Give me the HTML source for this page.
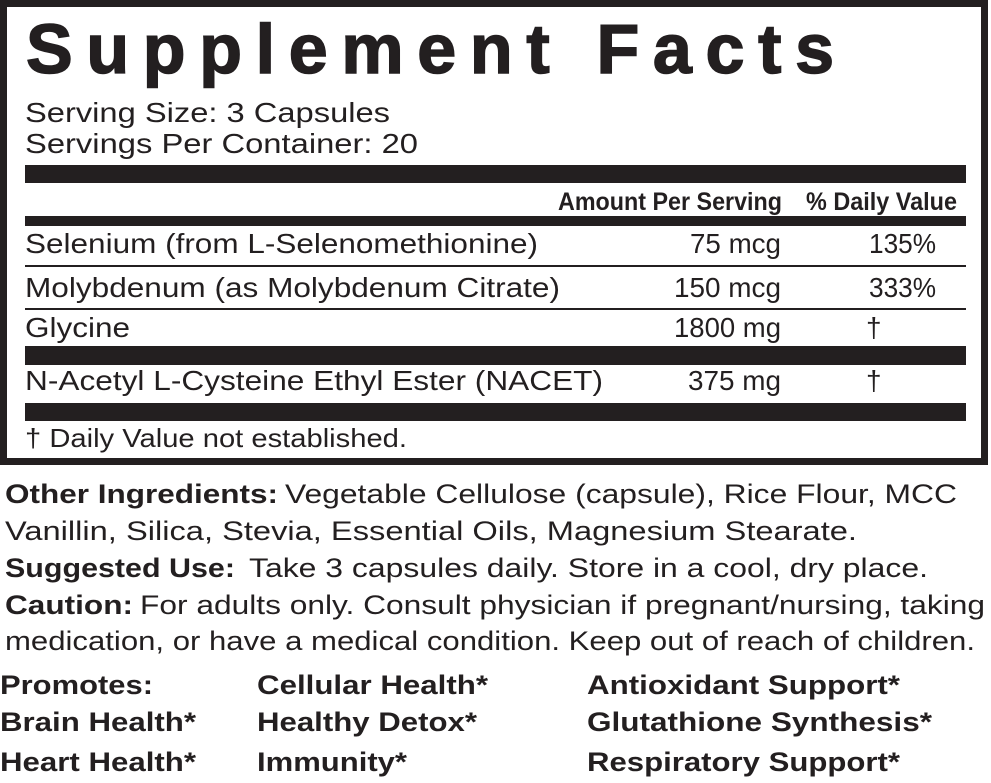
<!DOCTYPE html>
<html><head><meta charset="utf-8"><style>
html,body{margin:0;padding:0;background:#fff;width:991px;height:783px;overflow:hidden}
svg{display:block}
text{font-family:"Liberation Sans",Arial,sans-serif;fill:#231f20}
.b{font-weight:bold}
</style></head><body>
<svg width="991" height="783" viewBox="0 0 991 783" xmlns="http://www.w3.org/2000/svg">
<rect x="3.5" y="3.5" width="981" height="458" fill="none" stroke="#231f20" stroke-width="7"/>
<text class="b" x="26" y="73" font-size="70" textLength="808" lengthAdjust="spacing" stroke="#231f20" stroke-width="1.5">Supplement Facts</text>
<text x="25" y="122" font-size="28" textLength="365" lengthAdjust="spacingAndGlyphs">Serving Size: 3 Capsules</text>
<text x="25" y="153" font-size="28" textLength="393" lengthAdjust="spacingAndGlyphs">Servings Per Container: 20</text>
<rect x="25" y="165" width="941" height="18" fill="#231f20"/>
<text class="b" x="558" y="210" font-size="25" textLength="224" lengthAdjust="spacingAndGlyphs">Amount Per Serving</text>
<text class="b" x="806" y="210" font-size="25" textLength="151" lengthAdjust="spacingAndGlyphs">% Daily Value</text>
<rect x="25" y="216" width="941" height="10" fill="#231f20"/>
<text x="25" y="253" font-size="28" textLength="513" lengthAdjust="spacingAndGlyphs">Selenium (from L-Selenomethionine)</text>
<text x="690" y="253" font-size="28" textLength="91" lengthAdjust="spacingAndGlyphs">75 mcg</text>
<text x="869" y="253" font-size="28" textLength="67" lengthAdjust="spacingAndGlyphs">135%</text>
<rect x="25" y="265" width="941" height="2" fill="#231f20"/>
<text x="25" y="297" font-size="28" textLength="535" lengthAdjust="spacingAndGlyphs">Molybdenum (as Molybdenum Citrate)</text>
<text x="674" y="297" font-size="28" textLength="107" lengthAdjust="spacingAndGlyphs">150 mcg</text>
<text x="869" y="297" font-size="28" textLength="67" lengthAdjust="spacingAndGlyphs">333%</text>
<rect x="25" y="308" width="941" height="2" fill="#231f20"/>
<text x="25" y="337" font-size="28" textLength="105" lengthAdjust="spacingAndGlyphs">Glycine</text>
<text x="674" y="337" font-size="28" textLength="107" lengthAdjust="spacingAndGlyphs">1800 mg</text>
<text x="866" y="337" font-size="28">†</text>
<rect x="25" y="346" width="941" height="19" fill="#231f20"/>
<text x="25" y="390" font-size="28" textLength="578" lengthAdjust="spacingAndGlyphs">N-Acetyl L-Cysteine Ethyl Ester (NACET)</text>
<text x="688" y="390" font-size="28" textLength="93" lengthAdjust="spacingAndGlyphs">375 mg</text>
<text x="866" y="390" font-size="28">†</text>
<rect x="25" y="403" width="941" height="18" fill="#231f20"/>
<text x="25" y="447" font-size="26" textLength="382" lengthAdjust="spacingAndGlyphs">† Daily Value not established.</text>

<text class="b" x="5" y="503" font-size="27" textLength="273" lengthAdjust="spacingAndGlyphs">Other Ingredients:</text>
<text x="285" y="503" font-size="27" textLength="672" lengthAdjust="spacingAndGlyphs">Vegetable Cellulose (capsule), Rice Flour, MCC</text>
<text x="5" y="540" font-size="27" textLength="852" lengthAdjust="spacingAndGlyphs">Vanillin, Silica, Stevia, Essential Oils, Magnesium Stearate.</text>
<text class="b" x="5" y="577" font-size="27" textLength="230" lengthAdjust="spacingAndGlyphs">Suggested Use:</text>
<text x="249" y="577" font-size="27" textLength="679" lengthAdjust="spacingAndGlyphs">Take 3 capsules daily. Store in a cool, dry place.</text>
<text class="b" x="5" y="614" font-size="27" textLength="128" lengthAdjust="spacingAndGlyphs">Caution:</text>
<text x="140" y="614" font-size="27" textLength="845" lengthAdjust="spacingAndGlyphs">For adults only. Consult physician if pregnant/nursing, taking</text>
<text x="5" y="650" font-size="27" textLength="970" lengthAdjust="spacingAndGlyphs">medication, or have a medical condition. Keep out of reach of children.</text>

<text class="b" x="0" y="694" font-size="27" textLength="153" lengthAdjust="spacingAndGlyphs">Promotes:</text>
<text class="b" x="257" y="694" font-size="27" textLength="231" lengthAdjust="spacingAndGlyphs">Cellular Health*</text>
<text class="b" x="587" y="694" font-size="27" textLength="313" lengthAdjust="spacingAndGlyphs">Antioxidant Support*</text>
<text class="b" x="0" y="731" font-size="27" textLength="196" lengthAdjust="spacingAndGlyphs">Brain Health*</text>
<text class="b" x="257" y="731" font-size="27" textLength="220" lengthAdjust="spacingAndGlyphs">Healthy Detox*</text>
<text class="b" x="587" y="731" font-size="27" textLength="345" lengthAdjust="spacingAndGlyphs">Glutathione Synthesis*</text>
<text class="b" x="0" y="771" font-size="27" textLength="196" lengthAdjust="spacingAndGlyphs">Heart Health*</text>
<text class="b" x="257" y="771" font-size="27" textLength="150" lengthAdjust="spacingAndGlyphs">Immunity*</text>
<text class="b" x="587" y="771" font-size="27" textLength="313" lengthAdjust="spacingAndGlyphs">Respiratory Support*</text>
</svg>
</body></html>
